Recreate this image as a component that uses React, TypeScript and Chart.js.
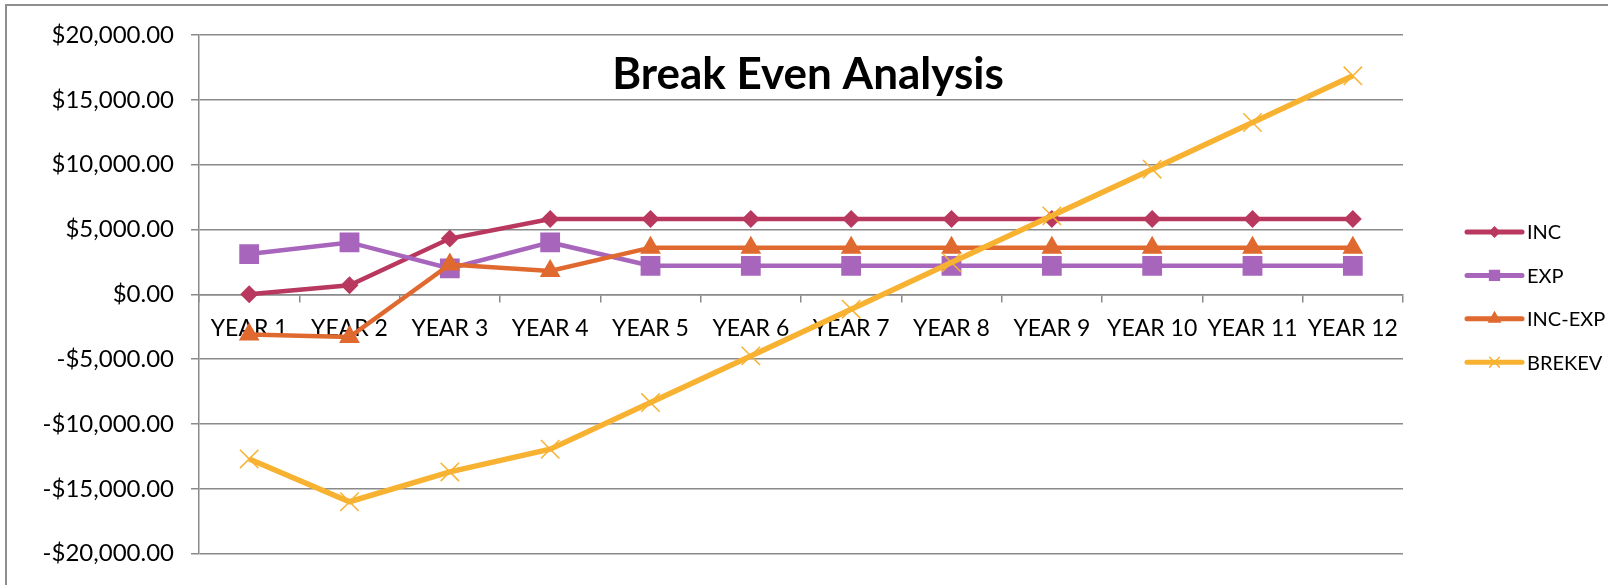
import React, { useEffect, useRef } from "react";
import { Chart, registerables } from "chart.js";
import { drawPoint } from "chart.js/helpers";

Chart.register(...registerables);

const categories = ["YEAR 1", "YEAR 2", "YEAR 3", "YEAR 4", "YEAR 5", "YEAR 6", "YEAR 7", "YEAR 8", "YEAR 9", "YEAR 10", "YEAR 11", "YEAR 12"];
const incValues = [0, 700, 4300, 5800, 5800, 5800, 5800, 5800, 5800, 5800, 5800, 5800];
const expValues = [3100, 4000, 2000, 4000, 2200, 2200, 2200, 2200, 2200, 2200, 2200, 2200];
const incExpValues = [-3100, -3300, 2300, 1800, 3600, 3600, 3600, 3600, 3600, 3600, 3600, 3600];
const brekevValues = [-12700, -16000, -13700, -11950, -8350, -4750, -1150, 2450, 6050, 9650, 13250, 16850];
const seriesNames = ["INC", "EXP", "INC-EXP", "BREKEV"];
const yTicks = [-20000, -15000, -10000, -5000, 0, 5000, 10000, 15000, 20000];
const titleText = "Break Even Analysis";

const COLORS = ["#B8385F", "#A865BC", "#E0692F", "#F8B232"];
const STYLES = ["rectRot", "rect", "triangle", "crossRot"];
const RADII = [9, 14, 12, 13];
const LEGEND_RADII = [6, 8, 8, 7];
const GRID = "#8a8a8a";
const FONT = "Lato, 'Open Sans', sans-serif";

function fmt(v: number): string {
  const abs = Math.abs(v).toLocaleString("en-US", { minimumFractionDigits: 2, maximumFractionDigits: 2 });
  return (v < 0 ? "-$" : "$") + abs;
}

const overlayPlugin = {
  id: "overlay",
  afterDraw(chart: any) {
    const ctx = chart.ctx;
    ctx.save();
    // title
    ctx.fillStyle = "#000";
    ctx.font = `bold 44px ${FONT}`;
    ctx.textAlign = "center";
    ctx.textBaseline = "alphabetic";
    ctx.fillText(titleText, 808, 89);
    // legend
    const x0 = 1467;
    const x1 = 1522;
    const y0 = 232;
    const gap = 43.4;
    seriesNames.forEach((name, i) => {
      const y = y0 + i * gap;
      ctx.strokeStyle = COLORS[i];
      ctx.fillStyle = COLORS[i];
      ctx.lineWidth = 5;
      ctx.lineCap = "round";
      ctx.beginPath();
      ctx.moveTo(x0, y);
      ctx.lineTo(x1, y);
      ctx.stroke();
      ctx.lineWidth = 1.5;
      drawPoint(ctx, { pointStyle: STYLES[i] as any, radius: LEGEND_RADII[i], rotation: 0, borderWidth: STYLES[i] === "crossRot" ? 1.5 : 0 }, (x0 + x1) / 2, y);
      ctx.fillStyle = "#000";
      ctx.font = `20px ${FONT}`;
      ctx.textAlign = "left";
      ctx.textBaseline = "middle";
      ctx.fillText(name, 1527, y + 1);
    });
    ctx.restore();
  },
};

export default function App() {
  const ref = useRef<HTMLCanvasElement | null>(null);
  useEffect(() => {
    if (!ref.current) return;
    const all = [incValues, expValues, incExpValues, brekevValues];
    const chart = new Chart(ref.current, {
      type: "line",
      data: {
        labels: categories,
        datasets: all.map((vals, i) => ({
          label: seriesNames[i],
          data: vals,
          borderColor: COLORS[i],
          backgroundColor: COLORS[i],
          pointBackgroundColor: COLORS[i],
          pointBorderColor: COLORS[i],
          pointStyle: STYLES[i] as any,
          pointRadius: RADII[i],
          pointBorderWidth: STYLES[i] === "crossRot" ? 1.5 : 0,
          borderWidth: i === 3 ? 5.5 : 4.5,
          tension: 0,
          fill: false,
          order: 4 - i,
        })),
      },
      options: {
        responsive: true,
        maintainAspectRatio: false,
        animation: false,
        layout: { padding: { top: 35, right: 205, bottom: 31, left: 0 } },
        plugins: {
          legend: { display: false },
          title: { display: false },
          tooltip: { enabled: false },
        },
        scales: {
          x: {
            type: "category",
            position: { y: 0 } as any,
            offset: true,
            grid: { offset: true, drawOnChartArea: false, drawTicks: true, tickLength: 7, color: GRID, lineWidth: 1.5 },
            border: { display: true, color: GRID, width: 1.5 },
            ticks: { color: "#000", font: { family: FONT, size: 23 }, padding: 13, maxRotation: 0, autoSkip: false },
            afterFit: (s: any) => { s.height = 0; },
          },
          y: {
            min: -20000,
            max: 20000,
            afterBuildTicks: (s: any) => { s.ticks = yTicks.map((v) => ({ value: v })); },
            ticks: { color: "#000", font: { family: FONT, size: 24 }, padding: 17, callback: (v: any) => fmt(Number(v)) },
            grid: { color: GRID, lineWidth: 1.5, tickLength: 8 },
            border: { display: true, color: GRID, width: 1.5 },
            afterFit: (s: any) => { s.width = 199; },
          },
        },
      },
      plugins: [overlayPlugin],
    });
    return () => chart.destroy();
  }, []);
  return (
    <div style={{ position: "fixed", left: 0, top: 0, width: 1608, height: 585, background: "#fff", overflow: "hidden" }}>
      <div style={{ position: "absolute", left: 5, top: 4, width: 1700, height: 700, border: "2px solid #8e8e8e" }} />
      <div style={{ position: "absolute", left: 0, top: 0, width: 1608, height: 585 }}>
        <canvas ref={ref} />
      </div>
    </div>
  );
}
